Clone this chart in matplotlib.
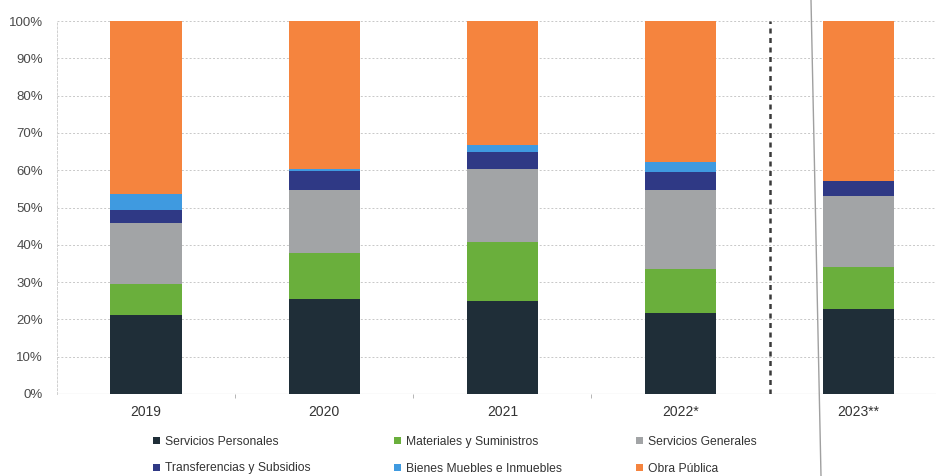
import matplotlib
matplotlib.use("Agg")
import matplotlib.pyplot as plt
from matplotlib.patches import Patch
from matplotlib.lines import Line2D
import numpy as np

plt.rcParams['font.family'] = ['Liberation Sans', 'DejaVu Sans']

years = ["2019", "2020", "2021", "2022*", "2023**"]
series_names = ["Servicios Personales", "Materiales y Suministros", "Servicios Generales",
                "Transferencias y Subsidios", "Bienes Muebles e Inmuebles", "Obra Pública"]
servicios_personales = [21.1, 25.4, 25.0, 21.8, 22.9]
materiales_suministros = [8.5, 12.5, 15.7, 11.7, 11.1]
servicios_generales = [16.3, 16.8, 19.7, 21.2, 19.2]
transferencias_subsidios = [3.3, 5.1, 4.5, 4.9, 4.0]
bienes_muebles = [4.3, 0.5, 1.8, 2.5, 0.0]
obra_publica = [46.5, 39.7, 33.3, 37.9, 42.8]
y_ticks = [0, 10, 20, 30, 40, 50, 60, 70, 80, 90, 100]

colors = ["#1f2e38", "#6aaf3c", "#a2a4a6", "#2f3985", "#3f9ae0", "#f5843e"]
data = [servicios_personales, materiales_suministros, servicios_generales,
        transferencias_subsidios, bienes_muebles, obra_publica]

fig = plt.figure(figsize=(9.37, 4.76), dpi=100)
ax = fig.add_axes([57/937, 1-394/476, 1-57/937, (394-21)/476])

x = np.arange(len(years))
bottom = np.zeros(len(years))
for vals, c, name in zip(data, colors, series_names):
    v = np.array(vals)
    ax.bar(x, v, 0.40, bottom=bottom, color=c, label=name, zorder=3)
    bottom += v

ax.set_xlim(-0.5, 4.44)
ax.set_ylim(0, 100)
ax.set_yticks(y_ticks)
ax.set_yticklabels([f"{t}%" for t in y_ticks], fontsize=9.5, color="#4a4a4a")
ax.set_xticks(x)
ax.set_xticklabels(years, fontsize=10, color="#333333")
ax.set_xticks([0.5, 1.5, 2.5], minor=True)
ax.tick_params(axis='x', which='major', length=0, pad=8)
ax.tick_params(axis='x', which='minor', length=3, color="#aaaaaa")
ax.tick_params(axis='y', length=0, pad=10)
ax.grid(axis='y', color="#c8c8c8", linestyle=(0, (2, 2)), linewidth=0.7, zorder=0)
for s in ["top", "right", "bottom"]:
    ax.spines[s].set_visible(False)
ax.spines["left"].set_color("#d0d0d0")
ax.spines["left"].set_linestyle((0, (2, 2)))
ax.spines["left"].set_linewidth(0.7)
ax.axhline(0, color="#b5b5b5", linewidth=0.8, zorder=1)

ax.axvline(3.5, ymin=0, ymax=1, color="#3a3a3a", linestyle=(0, (2, 1.8)), linewidth=1.8, zorder=4)

fig.add_artist(Line2D([811/937, 821/937], [1.0, 0.0], transform=fig.transFigure,
                      color="#a0a0a0", linewidth=1.0))

legend_cols = [[0, 3], [1, 4], [2, 5]]
col_x = [153/937, 394/937, 636/937]
for xs, idxs in zip(col_x, legend_cols):
    handles = [Patch(facecolor=colors[i], edgecolor='none') for i in idxs]
    labels = [series_names[i] for i in idxs]
    leg = fig.legend(handles, labels, loc="upper left", bbox_to_anchor=(xs, 1-436/476),
                     frameon=False, fontsize=8.7, handlelength=0.55, handleheight=0.55,
                     handletextpad=0.45, labelspacing=1.2, borderaxespad=0, borderpad=0,
                     labelcolor="#333333")

fig.savefig("out.png", dpi=100, facecolor="white")
